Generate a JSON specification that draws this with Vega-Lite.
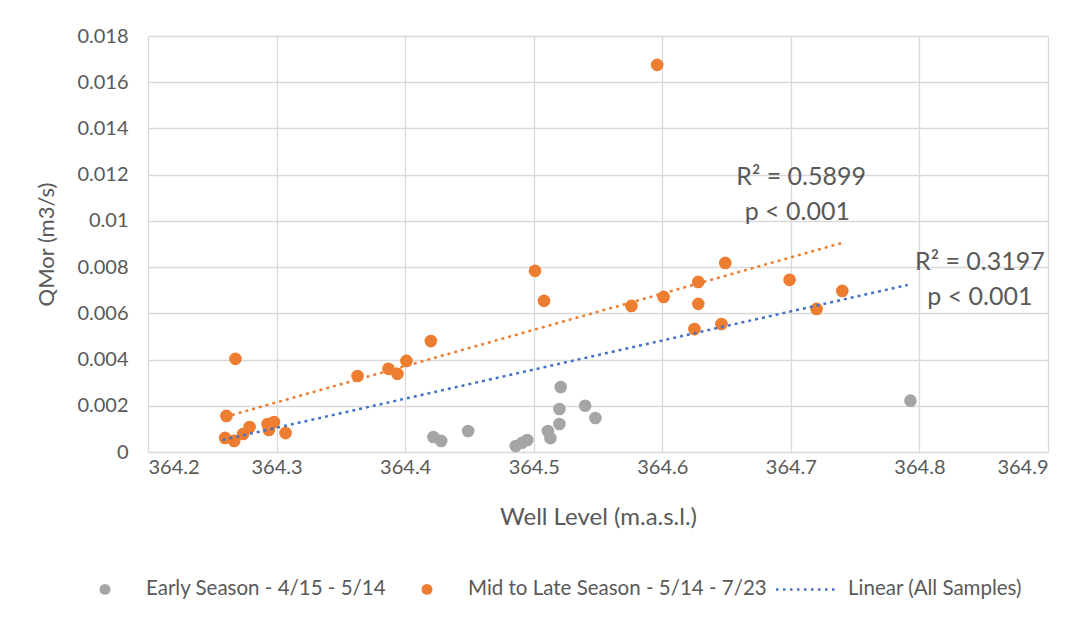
{
  "$schema": "https://vega.github.io/schema/vega-lite/v6.json",
  "width": 900,
  "height": 416,
  "autosize": {"type": "none"},
  "padding": {"left": 148, "top": 36, "right": 30, "bottom": 167},
  "background": "white",
  "config": {
    "font": "Lato",
    "view": {"stroke": null},
    "axis": {
      "gridColor": "#D9D9D9",
      "gridWidth": 1.3,
      "labelColor": "#595959",
      "titleColor": "#595959",
      "labelFont": "Lato",
      "titleFont": "Lato",
      "titleFontWeight": "normal",
      "labelFontSize": 20,
      "titleFontSize": 22,
      "ticks": false,
      "domain": false
    }
  },
  "datasets": {
    "pts": [
      {"level": 364.422, "q": 0.00065, "season": "Early Season - 4/15 - 5/14"},
      {"level": 364.428, "q": 0.00048, "season": "Early Season - 4/15 - 5/14"},
      {"level": 364.449, "q": 0.00091, "season": "Early Season - 4/15 - 5/14"},
      {"level": 364.486, "q": 0.00026, "season": "Early Season - 4/15 - 5/14"},
      {"level": 364.491, "q": 0.0004, "season": "Early Season - 4/15 - 5/14"},
      {"level": 364.495, "q": 0.00052, "season": "Early Season - 4/15 - 5/14"},
      {"level": 364.511, "q": 0.00091, "season": "Early Season - 4/15 - 5/14"},
      {"level": 364.513, "q": 0.0006, "season": "Early Season - 4/15 - 5/14"},
      {"level": 364.52, "q": 0.00121, "season": "Early Season - 4/15 - 5/14"},
      {"level": 364.52, "q": 0.00186, "season": "Early Season - 4/15 - 5/14"},
      {"level": 364.521, "q": 0.00281, "season": "Early Season - 4/15 - 5/14"},
      {"level": 364.54, "q": 0.002, "season": "Early Season - 4/15 - 5/14"},
      {"level": 364.548, "q": 0.00147, "season": "Early Season - 4/15 - 5/14"},
      {"level": 364.793, "q": 0.00222, "season": "Early Season - 4/15 - 5/14"},
      {"level": 364.26, "q": 0.00061, "season": "Mid to Late Season - 5/14 - 7/23"},
      {"level": 364.261, "q": 0.00156, "season": "Mid to Late Season - 5/14 - 7/23"},
      {"level": 364.268, "q": 0.00403, "season": "Mid to Late Season - 5/14 - 7/23"},
      {"level": 364.267, "q": 0.00048, "season": "Mid to Late Season - 5/14 - 7/23"},
      {"level": 364.274, "q": 0.00078, "season": "Mid to Late Season - 5/14 - 7/23"},
      {"level": 364.279, "q": 0.00108, "season": "Mid to Late Season - 5/14 - 7/23"},
      {"level": 364.293, "q": 0.00121, "season": "Mid to Late Season - 5/14 - 7/23"},
      {"level": 364.294, "q": 0.00095, "season": "Mid to Late Season - 5/14 - 7/23"},
      {"level": 364.298, "q": 0.0013, "season": "Mid to Late Season - 5/14 - 7/23"},
      {"level": 364.307, "q": 0.00082, "season": "Mid to Late Season - 5/14 - 7/23"},
      {"level": 364.363, "q": 0.00329, "season": "Mid to Late Season - 5/14 - 7/23"},
      {"level": 364.387, "q": 0.0036, "season": "Mid to Late Season - 5/14 - 7/23"},
      {"level": 364.394, "q": 0.00338, "season": "Mid to Late Season - 5/14 - 7/23"},
      {"level": 364.401, "q": 0.00394, "season": "Mid to Late Season - 5/14 - 7/23"},
      {"level": 364.42, "q": 0.0048, "season": "Mid to Late Season - 5/14 - 7/23"},
      {"level": 364.501, "q": 0.00784, "season": "Mid to Late Season - 5/14 - 7/23"},
      {"level": 364.508, "q": 0.00654, "season": "Mid to Late Season - 5/14 - 7/23"},
      {"level": 364.576, "q": 0.00632, "season": "Mid to Late Season - 5/14 - 7/23"},
      {"level": 364.596, "q": 0.01675, "season": "Mid to Late Season - 5/14 - 7/23"},
      {"level": 364.601, "q": 0.00671, "season": "Mid to Late Season - 5/14 - 7/23"},
      {"level": 364.625, "q": 0.00532, "season": "Mid to Late Season - 5/14 - 7/23"},
      {"level": 364.628, "q": 0.00736, "season": "Mid to Late Season - 5/14 - 7/23"},
      {"level": 364.628, "q": 0.00641, "season": "Mid to Late Season - 5/14 - 7/23"},
      {"level": 364.646, "q": 0.00554, "season": "Mid to Late Season - 5/14 - 7/23"},
      {"level": 364.649, "q": 0.00818, "season": "Mid to Late Season - 5/14 - 7/23"},
      {"level": 364.699, "q": 0.00745, "season": "Mid to Late Season - 5/14 - 7/23"},
      {"level": 364.72, "q": 0.00619, "season": "Mid to Late Season - 5/14 - 7/23"},
      {"level": 364.74, "q": 0.00697, "season": "Mid to Late Season - 5/14 - 7/23"}
    ],
    "trend": [
      {"level": 364.26, "q": 0.00152, "series": "mid"},
      {"level": 364.74, "q": 0.00905, "series": "mid"},
      {"level": 364.258, "q": 0.00052, "series": "all"},
      {"level": 364.791, "q": 0.00723, "series": "all"}
    ],
    "notes": [
      {"level": 364.708, "q": 0.0119, "label": "R² = 0.5899"},
      {"level": 364.705, "q": 0.01039, "label": "p < 0.001"},
      {"level": 364.847, "q": 0.00823, "label": "R² = 0.3197"},
      {"level": 364.847, "q": 0.00671, "label": "p < 0.001"}
    ]
  },
  "encoding": {
    "x": {
      "field": "level",
      "type": "quantitative",
      "scale": {"domain": [364.2, 364.9], "nice": false, "zero": false},
      "axis": {
        "title": "Well Level (m.a.s.l.)",
        "titleFontSize": 24,
        "values": [364.2, 364.3, 364.4, 364.5, 364.6, 364.7, 364.8, 364.9],
        "format": ".1f",
        "labelPadding": 5,
        "titlePadding": 28
      }
    },
    "y": {
      "field": "q",
      "type": "quantitative",
      "scale": {"domain": [0, 0.018], "nice": false},
      "axis": {
        "title": "QMor (m3/s)",
        "values": [0, 0.002, 0.004, 0.006, 0.008, 0.01, 0.012, 0.014, 0.016, 0.018],
        "format": ".3~f",
        "labelPadding": 20,
        "titlePadding": 18
      }
    }
  },
  "layer": [
    {
      "data": {"name": "pts"},
      "mark": {"type": "circle", "size": 160, "opacity": 1},
      "encoding": {
        "color": {
          "field": "season",
          "type": "nominal",
          "scale": {
            "domain": ["Early Season - 4/15 - 5/14", "Mid to Late Season - 5/14 - 7/23", "Linear (All Samples)"],
            "range": ["#A5A5A5", "#ED7D31", "#4472C4"]
          },
          "legend": {
            "title": null,
            "orient": "none",
            "direction": "horizontal",
            "columns": 3,
            "padding": 0,
            "legendX": -49,
            "legendY": 543,
            "labelFontSize": 20.5,
            "labelFont": "Lato",
            "labelColor": "#595959",
            "labelLimit": 500,
            "labelExpr": "datum.value === 'Early Season - 4/15 - 5/14' ? datum.label + '\u2800\u2800' : datum.label",
            "symbolSize": 120,
            "symbolOpacity": 1,
            "columnPadding": 4,
            "encode": {
              "symbols": {
                "update": {
                  "x": {"signal": "datum.value === 'Linear (All Samples)' ? 4.5 : 6"},
                  "shape": {"signal": "datum.value === 'Linear (All Samples)' ? 'stroke' : 'circle'"},
                  "stroke": {"signal": "datum.value === 'Linear (All Samples)' ? '#4472C4' : 'transparent'"},
                  "strokeDash": {"signal": "datum.value === 'Linear (All Samples)' ? [2.5, 4.5] : [1, 0]"},
                  "strokeWidth": {"signal": "datum.value === 'Linear (All Samples)' ? 2.5 : 0"},
                  "size": {"signal": "datum.value === 'Linear (All Samples)' ? 3969 : 120"}
                }
              },
              "labels": {
                "update": {
                  "x": {"signal": "datum.value === 'Linear (All Samples)' ? 45 : 47"},
                  "text": {"signal": "datum.value === 'Early Season - 4/15 - 5/14' ? datum.value + '\u2800\u2800' : datum.value"}
                }
              }
            }
          }
        }
      }
    },
    {
      "data": {"name": "trend"},
      "mark": {"type": "line", "strokeDash": [3, 4], "strokeWidth": 2.5},
      "encoding": {
        "detail": {"field": "series"},
        "stroke": {
          "field": "series",
          "type": "nominal",
          "scale": {"domain": ["mid", "all"], "range": ["#ED7D31", "#4472C4"]},
          "legend": null
        }
      }
    },
    {
      "data": {"name": "notes"},
      "mark": {"type": "text", "fontSize": 25, "color": "#595959", "font": "Lato", "align": "center", "baseline": "middle"},
      "encoding": {"text": {"field": "label"}}
    }
  ]
}
